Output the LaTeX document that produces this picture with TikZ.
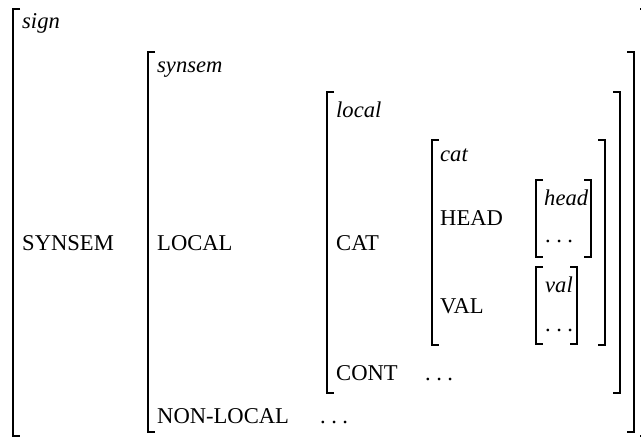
\documentclass[tikz,border=0pt]{standalone}
\usepackage{fontspec}
\setmainfont{Liberation Serif}
\usetikzlibrary{positioning}

% left and right bracket of one matrix: x1, top, x2, bottom
\newcommand{\avmbr}[4]{%
  \draw[bar] (#1+7,#2) -- (#1,#2) -- (#1,#4) -- (#1+7,#4);
  \draw[bar] (#3-7,#2) -- (#3,#2) -- (#3,#4) -- (#3-7,#4);
}
% three spaced dots
\newcommand{\avmdots}{.\kern5.5pt.\kern5.5pt.}

\begin{document}
\begin{tikzpicture}[
    x = 1pt, y = -1pt, % picture coordinates, y down
    font = \fontsize{22.6}{26}\selectfont,
    bar/.style = {line width = 1.8pt, line cap = butt, line join = miter},
]
\useasboundingbox (0,0) rectangle (641,437);

\tikzstyle{every node}=[
    inner sep = 0pt,
    anchor = base west,
]
\tikzstyle{type}=[font = \fontsize{22.6}{26}\selectfont\itshape]

% types
\node[type] (tsign) at (22,28) {sign};
\node[type] (tsynsem) at (157,72) {synsem};
\node[type] (tlocal) at (336,117) {local};
\node[type] (tcat) at (440,161) {cat};
\node[type] (thead) at (544,205) {head};
\node[type] (tval) at (545,292) {val};

% features
\node (synsem) at (22,250) {SYNSEM};
\node (local) at (157,250) {LOCAL};
\node (nonlocal) at (157,423) {NON-LOCAL};
\node (cat) at (336,250) {CAT};
\node (cont) at (336,380) {CONT};
\node (head) at (440,225) {HEAD};
\node (val) at (440,313) {VAL};

% values left out
\node (nonlocalv) at (320,423) {\avmdots};
\node (contv) at (425,380) {\avmdots};
\node (headv) at (545,242) {\avmdots};
\node (valv) at (545,331) {\avmdots};

% brackets (the outer right one falls past the edge)
\avmbr{13}{9}{647}{436}
\avmbr{148}{52}{634}{432}
\avmbr{327}{92}{620}{393}
\avmbr{432}{140}{605}{345}
\avmbr{536}{180}{591}{257}
\avmbr{536}{267}{577}{344}
\end{tikzpicture}
\end{document}
